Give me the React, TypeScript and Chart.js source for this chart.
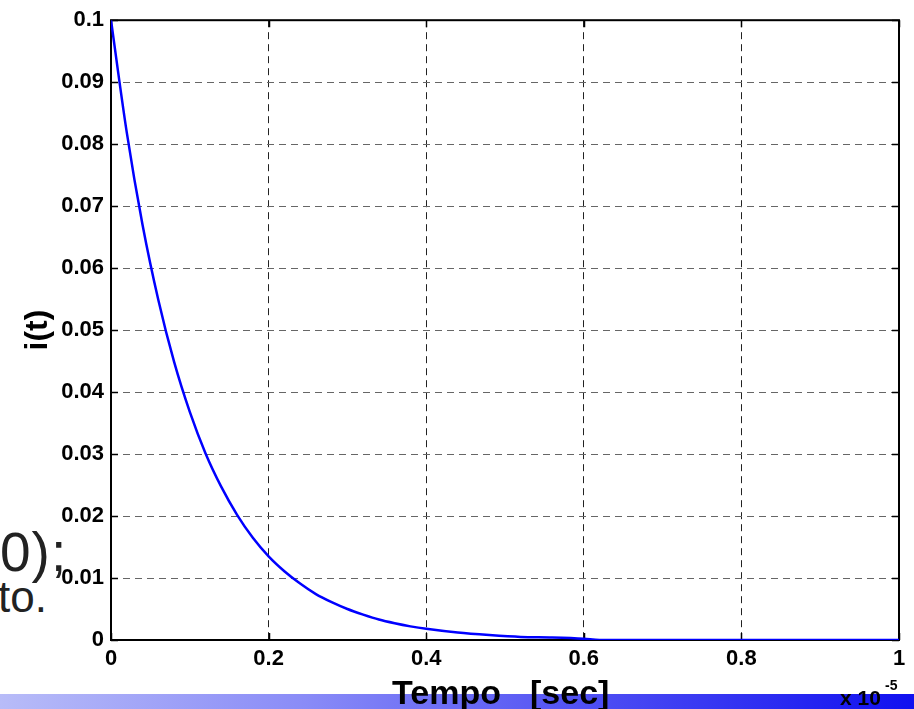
import React, { useEffect, useRef } from "react";
import { Chart, registerables } from "chart.js";

Chart.register(...registerables);

// time axis (units of 1e-5 s)
const tValues = [0, 0.02, 0.04, 0.06, 0.08, 0.1, 0.12, 0.14, 0.16, 0.18, 0.2, 0.22, 0.24, 0.26, 0.28, 0.3, 0.32, 0.34, 0.36, 0.38, 0.4, 0.44, 0.48, 0.52, 0.56, 0.6, 0.62, 0.7, 0.8, 0.9, 1.0];
// current i(t)
const iValues = [0.1, 0.0819, 0.067, 0.0549, 0.0449, 0.0368, 0.0301, 0.0247, 0.0202, 0.0165, 0.0135, 0.0111, 0.0091, 0.0074, 0.0061, 0.005, 0.0041, 0.0033, 0.0027, 0.0022, 0.0018, 0.0012, 0.0008, 0.0005, 0.0004, 0.0002, 0.0, 0.0, 0.0, 0.0, 0.0];

const xTickLabels = ["0", "0.2", "0.4", "0.6", "0.8", "1"];
const yTickLabels = ["0", "0.01", "0.02", "0.03", "0.04", "0.05", "0.06", "0.07", "0.08", "0.09", "0.1"];

const xTitleWords = ["Tempo", "[sec]"];
const yTitle = "i(t)";
const xExpBase = "x 10";
const xExpPow = "-5";

const FONT = "'Liberation Sans', Arial, Helvetica, sans-serif";

const framePlugin = {
  id: "matlabFrame",
  beforeDraw(chart: any) {
    const { ctx, chartArea } = chart;
    ctx.save();
    ctx.fillStyle = "#ffffff";
    ctx.fillRect(chartArea.left, chartArea.top, chartArea.right - chartArea.left, chartArea.bottom - chartArea.top);
    ctx.restore();
  },
  beforeDatasetsDraw(chart: any) {
    const { ctx, chartArea, scales } = chart;
    const { left, right, top, bottom } = chartArea;
    const xs = scales.x;
    const ys = scales.y;
    ctx.save();
    ctx.strokeStyle = "#000";
    ctx.lineWidth = 2;
    ctx.strokeRect(left, top, right - left, bottom - top);
    ctx.lineWidth = 1.5;
    const L = 7;
    ctx.beginPath();
    xs.ticks.forEach((t: any) => {
      const px = Math.round(xs.getPixelForValue(t.value)) + 0.5;
      ctx.moveTo(px, bottom);
      ctx.lineTo(px, bottom - L);
      ctx.moveTo(px, top);
      ctx.lineTo(px, top + L);
    });
    ys.ticks.forEach((t: any) => {
      const py = Math.round(ys.getPixelForValue(t.value)) + 0.5;
      ctx.moveTo(left, py);
      ctx.lineTo(left + L, py);
      ctx.moveTo(right, py);
      ctx.lineTo(right - L, py);
    });
    ctx.stroke();
    ctx.restore();
  },
  afterDraw(chart: any) {
    const { ctx } = chart;
    ctx.save();
    ctx.fillStyle = "#000";
    // y title
    ctx.save();
    ctx.translate(38, 330);
    ctx.rotate(-Math.PI / 2);
    ctx.font = `bold 32px ${FONT}`;
    ctx.textAlign = "center";
    ctx.textBaseline = "middle";
    ctx.fillText(yTitle, 0, 0);
    ctx.restore();
    // x title
    ctx.font = `bold 34px ${FONT}`;
    ctx.textAlign = "left";
    ctx.textBaseline = "alphabetic";
    ctx.fillText(xTitleWords[0], 392, 704);
    ctx.fillText(xTitleWords[1], 530, 704);
    // exponent
    ctx.font = `bold 21px ${FONT}`;
    ctx.fillText(xExpBase, 840, 705);
    ctx.font = `bold 14px ${FONT}`;
    ctx.fillText(xExpPow, 885, 690);
    ctx.restore();
  },
};

export default function App() {
  const canvasRef = useRef<HTMLCanvasElement | null>(null);

  useEffect(() => {
    const canvas = canvasRef.current;
    if (!canvas) return;
    const points = tValues.map((t, i) => ({ x: t, y: iValues[i] }));
    const chart = new Chart(canvas, {
      type: "line",
      data: {
        datasets: [
          {
            data: points,
            borderColor: "#0000ff",
            borderWidth: 2.5,
            pointRadius: 0,
            tension: 0.35,
            cubicInterpolationMode: "monotone",
            fill: false,
          },
        ],
      },
      options: {
        animation: false,
        responsive: false,
        devicePixelRatio: 1,
        layout: { padding: { left: 0, right: 15, top: 19, bottom: 0 } },
        plugins: { legend: { display: false }, tooltip: { enabled: false }, title: { display: false } },
        scales: {
          x: {
            type: "linear",
            min: 0,
            max: 1,
            afterFit: (s: any) => {
              s.height = 69;
            },
            afterBuildTicks: (s: any) => {
              s.ticks = xTickLabels.map((_, i) => ({ value: i * 0.2 }));
            },
            ticks: {
              callback: (_v: any, i: number) => xTickLabels[i],
              font: { family: FONT, size: 22, weight: "bold" },
              color: "#000",
              padding: 6,
              maxRotation: 0,
              autoSkip: false,
            },
            grid: { color: "#222", lineWidth: 1, drawTicks: false },
            border: { display: false, dash: [7, 5] },
          },
          y: {
            type: "linear",
            min: 0,
            max: 0.1,
            afterFit: (s: any) => {
              s.width = 111;
            },
            afterBuildTicks: (s: any) => {
              s.ticks = yTickLabels.map((_, i) => ({ value: i * 0.01 }));
            },
            ticks: {
              callback: (_v: any, i: number) => yTickLabels[i],
              font: { family: FONT, size: 22, weight: "bold" },
              color: "#000",
              padding: 7,
              autoSkip: false,
            },
            grid: { color: "#666", lineWidth: 1, drawTicks: false },
            border: { display: false, dash: [7, 5] },
          },
        },
      },
      plugins: [framePlugin],
    });
    return () => chart.destroy();
  }, []);

  return (
    <div style={{ position: "absolute", left: 0, top: 0, width: 914, height: 709, overflow: "hidden", background: "#fff" }}>
      <div
        style={{
          position: "absolute",
          left: 0,
          top: 694,
          width: 914,
          height: 15,
          background: "linear-gradient(to right, #b8bcf8, #8a8cf7 33%, #4c4cf3 66%, #1010f0)",
        }}
      />
      <div style={{ position: "absolute", left: 0, top: 525, font: `55px ${FONT}`, lineHeight: 1, color: "#222", letterSpacing: "1px", whiteSpace: "pre" }}>
        0);
      </div>
      <div style={{ position: "absolute", left: -2, top: 575, font: `44px ${FONT}`, lineHeight: 1, color: "#222", whiteSpace: "pre" }}>
        to.
      </div>
      <canvas ref={canvasRef} width={914} height={709} style={{ position: "absolute", left: 0, top: 0, width: 914, height: 709 }} />
    </div>
  );
}
